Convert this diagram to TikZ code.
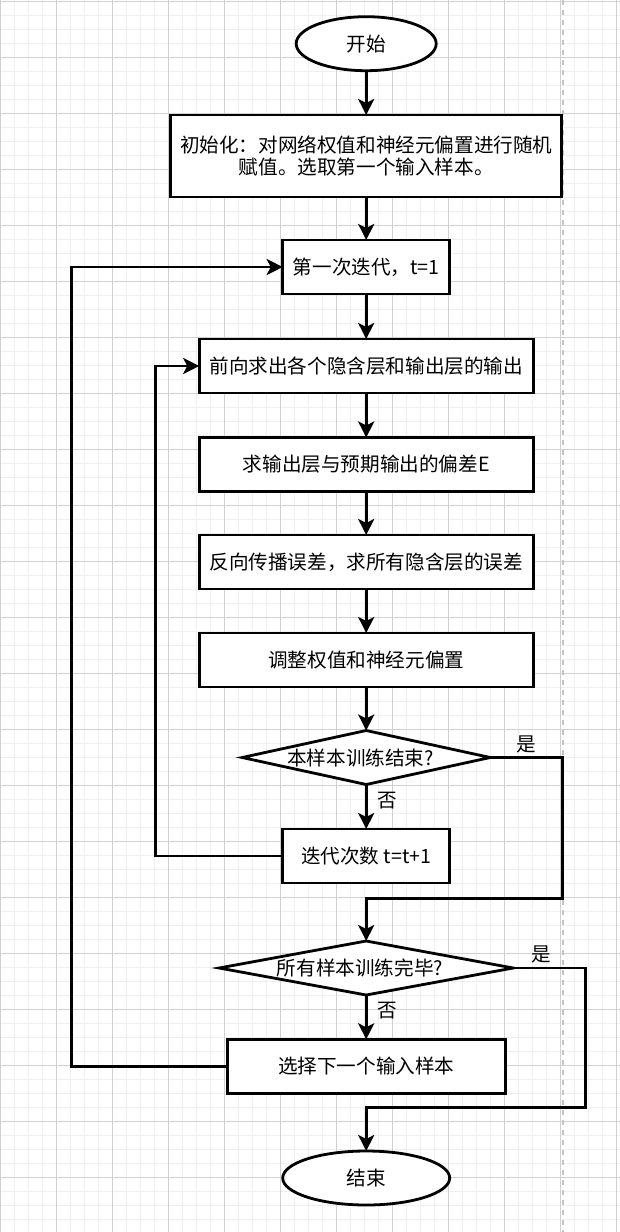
\documentclass[tikz,border=0pt]{standalone}
\usepackage{fontspec}
\setmainfont{Noto Sans CJK SC}
\usetikzlibrary{arrows.meta,shapes.geometric}
\definecolor{gridmajor}{HTML}{D0D0D0}
\definecolor{gridminor}{HTML}{EFEFEF}
\definecolor{pageline}{HTML}{C4C4C4}
\begin{document}
\begin{tikzpicture}[x=0.75pt,y=-0.75pt,
  every node/.style={font=\fontsize{14.7pt}{17pt}\selectfont, outer sep=0pt},
  proc/.style={draw, line width=2.1pt, rectangle, fill=white, inner sep=0pt, minimum height=40.5pt, align=center},
  term/.style={draw, line width=2.1pt, ellipse, fill=white, inner sep=0pt, minimum height=40.5pt},
  dec/.style={draw, line width=2.1pt, diamond, fill=white, inner sep=0pt, minimum height=40.5pt},
  conn/.style={line width=2.1pt},
  arr/.style={conn, -{Stealth[length=12pt,width=12pt,inset=3pt]}},
  lbl/.style={inner sep=0pt},
  minorline/.style={gridminor, line width=1.1pt},
  majorline/.style={gridmajor, line width=0.8pt}
]
\useasboundingbox (0,0) rectangle (620,1232);
\fill[white] (0,0) rectangle (620,1232);
% grid
\foreach \i in {0,...,44} \draw[minorline] ({0.5+14*\i},0) -- ({0.5+14*\i},1232);
\foreach \j in {0,...,87} \draw[minorline] (0,{1.3+14*\j}) -- (620,{1.3+14*\j});
\foreach \i in {0,...,11} \draw[majorline] ({0.5+56*\i},0) -- ({0.5+56*\i},1232);
\foreach \j in {0,...,21} \draw[majorline] (0,{1.3+56*\j}) -- (620,{1.3+56*\j});
\draw[pageline, line width=1.5pt, dash pattern=on 3.75pt off 3.75pt] (562.9,0) -- (562.9,1232);

% nodes
\node[term, minimum width=105pt] (start) at (366.2,43.7) {开始};
\node[proc, minimum width=293.25pt, minimum height=61.5pt] (init) at (366.2,156) {初始化：对网络权值和神经元偏置进行随机\\赋值。选取第一个输入样本。};
\node[proc, minimum width=125.25pt] (first) at (366.2,267) {第一次迭代，t=1};
\node[proc, minimum width=250.5pt] (fwd) at (366.2,366) {前向求出各个隐含层和输出层的输出};
\node[proc, minimum width=250.5pt] (err) at (366.2,464.5) {求输出层与预期输出的偏差E};
\node[proc, minimum width=250.5pt] (back) at (366.2,562) {反向传播误差，求所有隐含层的误差};
\node[proc, minimum width=250.5pt] (adj) at (366.2,660) {调整权值和神经元偏置};
\node[dec, minimum width=186pt] (d1) at (366.2,757.5) {};
\node (d1t) at (360.5,757.5) {本样本训练结束?};
\node[proc, minimum width=125.25pt] (iter) at (366.2,856) {迭代次数 t=t+1};
\node[dec, minimum width=220.5pt] (d2) at (366.2,968) {};
\node (d2t) at (360,968) {所有样本训练完毕?};
\node[proc, minimum width=208.5pt] (sel) at (366.2,1066.3) {选择下一个输入样本};
\node[term, minimum width=125.25pt] (end) at (366.2,1178) {结束};

% coordinates for bends
\coordinate (r1) at (562.3,898.3);
\coordinate (r2) at (585.7,1107.7);
\coordinate (l1) at (155.7,856);
\coordinate (l2) at (71.7,1066.3);

% connectors
\draw[arr] (start) -- (init);
\draw[arr] (init) -- (first);
\draw[arr] (first) -- (fwd);
\draw[arr] (fwd) -- (err);
\draw[arr] (err) -- (back);
\draw[arr] (back) -- (adj);
\draw[arr] (adj) -- (d1.north);
\draw[arr] (d1.south) -- (iter);
\draw[arr] (d1.east) -| (r1) -| (d2.north);
\draw[arr] (iter.west) -- (l1) |- (fwd.west);
\draw[arr] (d2.south) -- (sel);
\draw[arr] (d2.east) -| (r2) -| (end.north);
\draw[arr] (sel.west) -- (l2) |- (first.west);

% labels
\node[lbl] (yes1) at (526,744.5) {是};
\node[lbl] (no1) at (387.2,801) {否};
\node[lbl] (yes2) at (541,954.2) {是};
\node[lbl] (no2) at (387.2,1010.8) {否};
\end{tikzpicture}
\end{document}
